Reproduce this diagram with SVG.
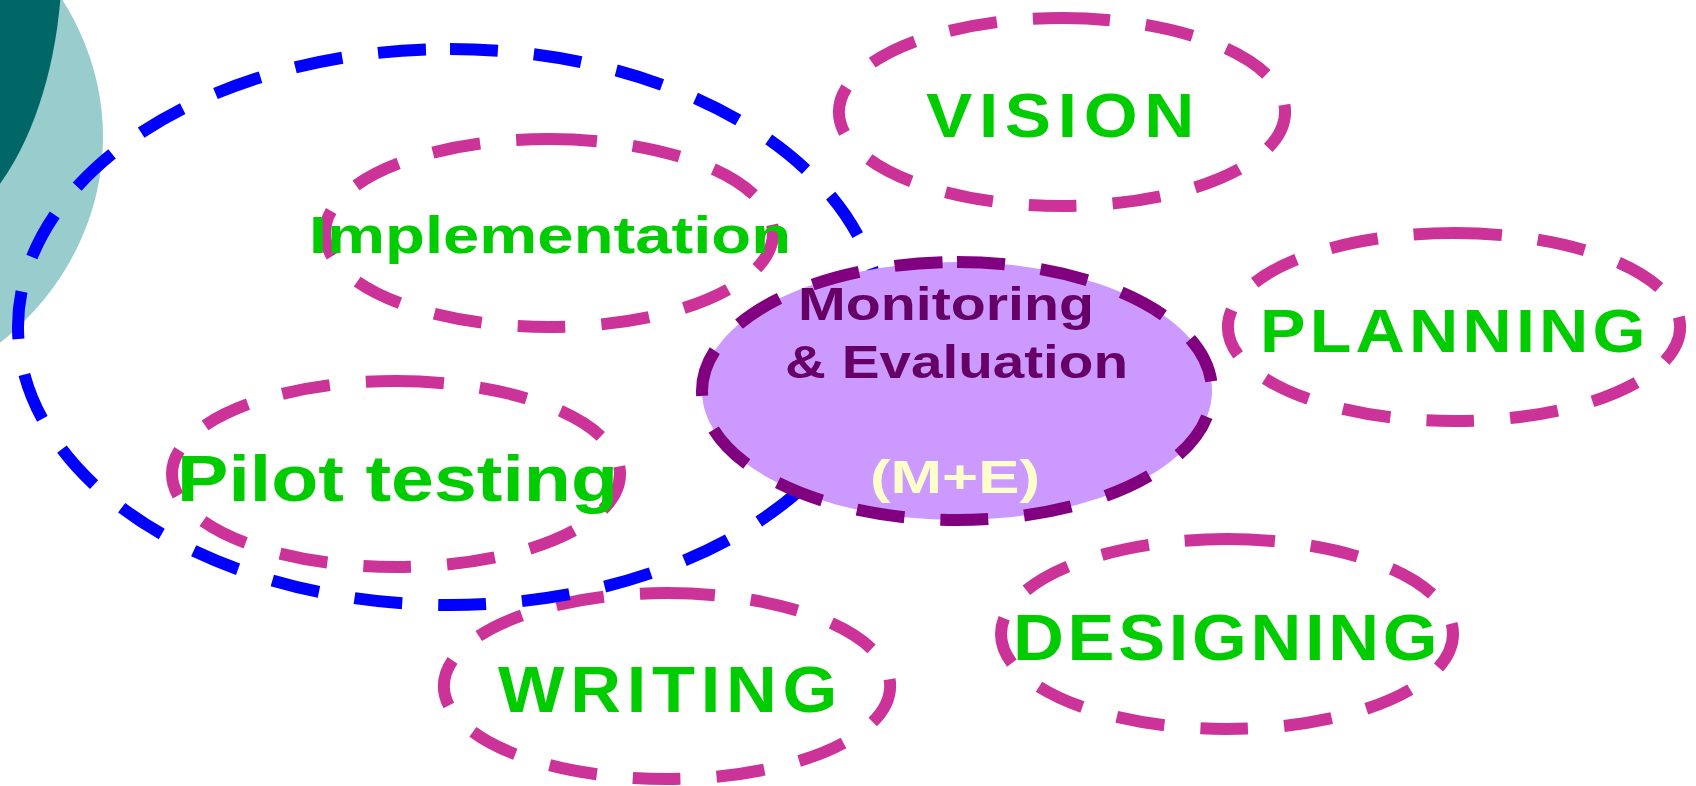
<svg xmlns="http://www.w3.org/2000/svg" width="1696" height="786" viewBox="0 0 1696 786">
  <style>
    .ring { fill: none; stroke-width: 12; stroke-dasharray: 48 36; }
    .mag { stroke: #CC3399; }
    .blue { stroke: #0000FF; }
    .me { fill: #CC99FF; stroke: #800080; stroke-width: 12; stroke-dasharray: 48 36; }
    .lbl { font-family: "Liberation Sans", Arial, Helvetica, sans-serif; font-weight: bold; fill: #00CC00; }
    .melbl { font-family: "Liberation Sans", Arial, Helvetica, sans-serif; font-weight: bold; fill: #660066; font-size: 46px; }
    .meabbr { font-family: "Liberation Sans", Arial, Helvetica, sans-serif; font-weight: bold; fill: #FFFFCC; font-size: 46px; }
  </style>
  <rect width="1696" height="786" fill="#FFFFFF"/>

  <g id="background">
    <ellipse cx="-200" cy="137" rx="303" ry="274" fill="#99CCCC"/>
    <ellipse cx="-100" cy="-42" rx="162" ry="287" fill="#006666"/>
  </g>

  <g id="pilot-testing">
    <path class="ring mag" d="M396,381 A224,93 0 1,1 396,567 A224,93 0 1,1 396,381 Z"/>
    <text class="lbl" x="177" y="501" font-size="65" textLength="441" lengthAdjust="spacingAndGlyphs">Pilot testing</text>
  </g>

  <g id="writing">
    <path class="ring mag" d="M667,593 A223,93 0 1,1 667,779 A223,93 0 1,1 667,593 Z"/>
    <text class="lbl" transform="scale(1.1,1)" x="452.7" y="712" font-size="64" textLength="308.5" lengthAdjust="spacing">WRITING</text>
  </g>

  <g id="connectors">
    <path class="ring blue" d="M450,49 A432,278 0 1,1 450,605 A432,278 0 1,1 450,49 Z"/>
  </g>

  <g id="implementation">
    <path class="ring mag" d="M549,139 A224,94 0 1,1 549,327 A224,94 0 1,1 549,139 Z"/>
    <text class="lbl" x="309" y="253" font-size="52" textLength="482" lengthAdjust="spacingAndGlyphs">Implementation</text>
  </g>

  <g id="vision">
    <path class="ring mag" d="M1062,18 A223,94 0 1,1 1062,206 A223,94 0 1,1 1062,18 Z"/>
    <text class="lbl" transform="scale(1.1,1)" x="841.8" y="137" font-size="63" textLength="244" lengthAdjust="spacing">VISION</text>
  </g>

  <g id="planning">
    <path class="ring mag" d="M1454,233 A226,94 0 1,1 1454,421 A226,94 0 1,1 1454,233 Z"/>
    <text class="lbl" transform="scale(1.1,1)" x="1145.5" y="352" font-size="62" textLength="350.5" lengthAdjust="spacing">PLANNING</text>
  </g>

  <g id="designing">
    <path class="ring mag" d="M1227,539 A226,95 0 1,1 1227,729 A226,95 0 1,1 1227,539 Z"/>
    <text class="lbl" transform="scale(1.1,1)" x="920.9" y="660" font-size="64" textLength="386" lengthAdjust="spacing">DESIGNING</text>
  </g>

  <g id="monitoring-evaluation">
    <path class="me" d="M957,262 A255,129 0 1,1 957,520 A255,129 0 1,1 957,262 Z"/>
    <text class="melbl" x="798" y="320" textLength="296" lengthAdjust="spacingAndGlyphs">Monitoring</text>
    <text class="melbl" x="785" y="378" textLength="343" lengthAdjust="spacingAndGlyphs">&amp; Evaluation</text>
    <text class="meabbr" x="870" y="493" textLength="170" lengthAdjust="spacingAndGlyphs">(M+E)</text>
  </g>
</svg>
